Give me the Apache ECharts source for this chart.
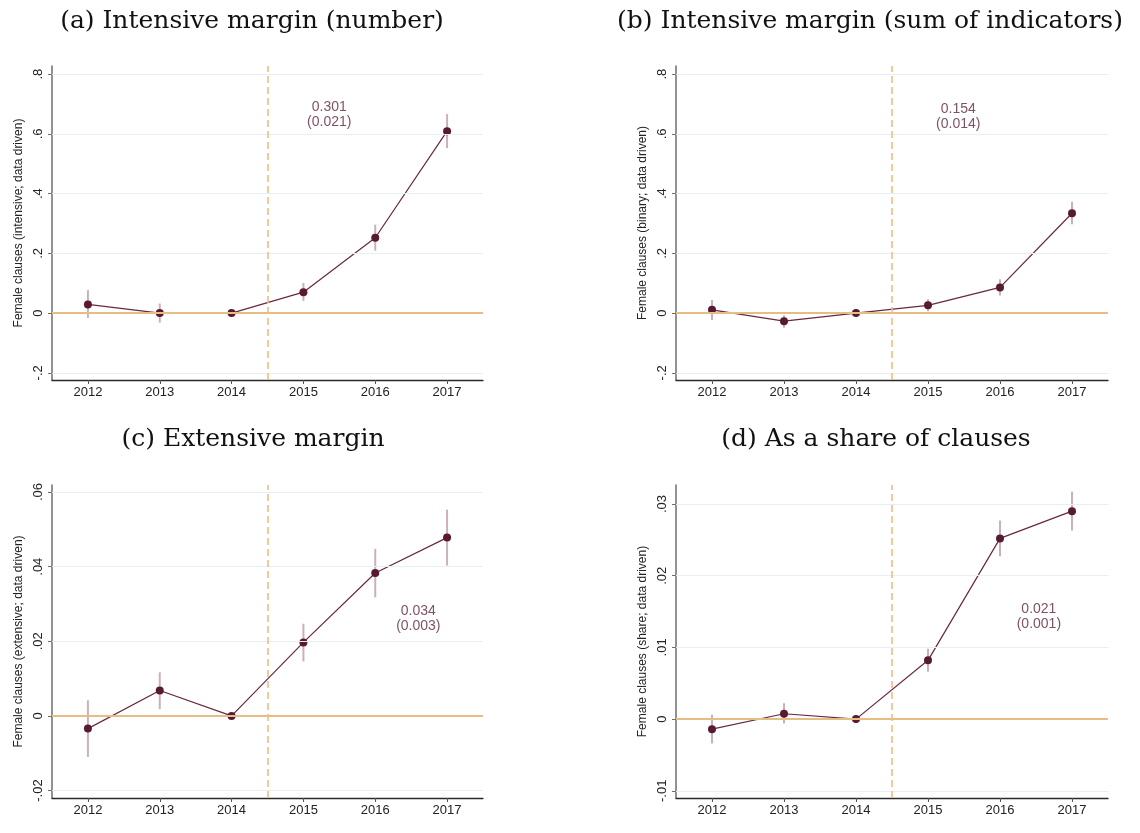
<!DOCTYPE html>
<html>
<head>
<meta charset="utf-8">
<script src="https://cdn.jsdelivr.net/npm/echarts@6/dist/echarts.min.js"></script>
<style>
html,body{margin:0;padding:0;background:#fff;}
#chart{width:1140px;height:833px;}
</style>
</head>
<body>
<div id="chart"></div>
<script>
// ---- data ----
const years = [2012, 2013, 2014, 2015, 2016, 2017];
const titles = ['(a) Intensive margin (number)', '(b) Intensive margin (sum of indicators)', '(c) Extensive margin', '(d) As a share of clauses'];
const yNames = ['Female clauses (intensive; data driven)', 'Female clauses (binary; data driven)', 'Female clauses (extensive; data driven)', 'Female clauses (share; data driven)'];

const aEst = [0.029, 0.000, 0, 0.070, 0.252, 0.609];
const aLo  = [-0.016, -0.032, 0, 0.041, 0.209, 0.552];
const aHi  = [0.077, 0.032, 0, 0.101, 0.296, 0.666];

const bEst = [0.011, -0.027, 0, 0.026, 0.086, 0.334];
const bLo  = [-0.023, -0.049, 0, 0.006, 0.059, 0.297];
const bHi  = [0.044, -0.007, 0, 0.046, 0.113, 0.373];

const cEst = [-0.0034, 0.0068, 0, 0.0197, 0.0383, 0.0478];
const cLo  = [-0.0110, 0.0018, 0, 0.0146, 0.0318, 0.0403];
const cHi  = [0.0042, 0.0117, 0, 0.0247, 0.0448, 0.0553];

const dEst = [-0.0014, 0.00075, 0, 0.0082, 0.0252, 0.0290];
const dLo  = [-0.0034, -0.0006, 0, 0.0066, 0.0227, 0.0263];
const dHi  = [0.0006, 0.0022, 0, 0.0098, 0.0277, 0.0317];

const abTicks = [-0.2, 0, 0.2, 0.4, 0.6, 0.8];
const abTickLabels = ['-.2', '0', '.2', '.4', '.6', '.8'];
const cTicks = [-0.02, 0, 0.02, 0.04, 0.06];
const cTickLabels = ['-.02', '0', '.02', '.04', '.06'];
const dTicks = [-0.01, 0, 0.01, 0.02, 0.03];
const dTickLabels = ['-.01', '0', '.01', '.02', '.03'];

const noteEst = ['0.301', '0.154', '0.034', '0.021'];
const noteSe  = ['(0.021)', '(0.014)', '(0.003)', '(0.001)'];
const noteX = [2015.36, 2015.42, 2016.6, 2016.54];
const noteY = [0.664, 0.656, 0.0262, 0.01433];

const cutoff = 2014.5;

// ---- layout / style ----
const grids = [
  {left: 52, top: 66, width: 431, height: 314},
  {left: 676, top: 66, width: 432, height: 314},
  {left: 52, top: 485, width: 431, height: 313},
  {left: 676, top: 485, width: 432, height: 313}
];
const yRanges = [[-0.224, 0.827], [-0.224, 0.827], [-0.022, 0.0619], [-0.0110, 0.03265]];
const titlePos = [[247, 4], [865, 4], [248, 422], [871, 422]];

const panels = [
  {est: aEst, lo: aLo, hi: aHi, ticks: abTicks, labels: abTickLabels},
  {est: bEst, lo: bLo, hi: bHi, ticks: abTicks, labels: abTickLabels},
  {est: cEst, lo: cLo, hi: cHi, ticks: cTicks, labels: cTickLabels},
  {est: dEst, lo: dLo, hi: dHi, ticks: dTicks, labels: dTickLabels}
];

const MAROON = '#581a32';
const LINE = '#682842';
const CI = '#cbb0ba';
const NOTE = '#5e2640';
const ZERO = '#e7bd86';
const VLINE = '#efbd82';
const GRIDC = '#e6eff1';
const YAXISC = '#6e6e6e';
const XAXISC = '#2a2a2a';
const SANS = '"Liberation Sans", Arial, sans-serif';

const option = {
  backgroundColor: '#fff',
  animation: false,
  title: titles.map((t, i) => ({
    text: t, left: titlePos[i][0], top: titlePos[i][1], textAlign: 'center',
    textStyle: {fontFamily: '"DejaVu Serif", serif', fontWeight: 'normal', fontSize: 25, color: '#111'}
  })),
  grid: grids.map(g => Object.assign({containLabel: false}, g)),
  xAxis: [], yAxis: [], series: []
};

panels.forEach((p, i) => {
  option.xAxis.push({
    type: 'value', gridIndex: i, min: 2011.5, max: 2017.5,
    axisLine: {show: true, onZero: false, lineStyle: {color: XAXISC, width: 1.3}},
    axisTick: {show: true, customValues: years, length: 4, lineStyle: {color: '#555'}},
    axisLabel: {customValues: years, margin: 6, fontFamily: SANS, fontSize: 13, color: '#222', formatter: v => String(v)},
    splitLine: {show: false}
  });
  option.yAxis.push({
    type: 'value', gridIndex: i, min: yRanges[i][0], max: yRanges[i][1],
    name: yNames[i], nameLocation: 'middle', nameGap: 27, nameRotate: 90,
    nameTextStyle: {fontFamily: SANS, fontSize: 12, color: '#222'},
    axisLine: {show: true, onZero: false, lineStyle: {color: YAXISC, width: 1.5}},
    axisTick: {show: true, customValues: p.ticks, length: 4, lineStyle: {color: YAXISC}},
    axisLabel: {
      customValues: p.ticks, rotate: 90, margin: 7, fontFamily: SANS, fontSize: 13, color: '#222',
      formatter: v => {
        for (let k = 0; k < p.ticks.length; k++) if (Math.abs(p.ticks[k] - v) < 1e-9) return p.labels[k];
        return '';
      }
    },
    splitLine: {show: false}
  });

  // grid lines
  option.series.push({
    type: 'line', xAxisIndex: i, yAxisIndex: i, data: [], z: 1, silent: true,
    markLine: {
      silent: true, symbol: 'none', animation: false, label: {show: false},
      lineStyle: {color: GRIDC, width: 1, type: 'solid'},
      data: p.ticks.map(t => ({yAxis: t}))
    }
  });
  // zero line + cutoff line
  option.series.push({
    type: 'line', xAxisIndex: i, yAxisIndex: i, data: [], z: 2, silent: true,
    markLine: {
      silent: true, symbol: 'none', animation: false, label: {show: false},
      data: [
        {yAxis: 0, lineStyle: {color: ZERO, width: 2, type: 'solid'}},
        {xAxis: cutoff, lineStyle: {color: VLINE, width: 1.6, type: [7, 4]}}
      ]
    }
  });
  // CI bars
  option.series.push({
    type: 'custom', xAxisIndex: i, yAxisIndex: i, z: 3, silent: true,
    data: years.map((y, k) => [y, p.lo[k], p.hi[k]]),
    renderItem: (params, api) => {
      const a = api.coord([api.value(0), api.value(1)]);
      const b = api.coord([api.value(0), api.value(2)]);
      return {type: 'line', shape: {x1: a[0], y1: a[1], x2: b[0], y2: b[1]}, style: {stroke: CI, lineWidth: 2}};
    }
  });
  // estimates
  option.series.push({
    type: 'line', xAxisIndex: i, yAxisIndex: i, z: 4,
    data: years.map((y, k) => [y, p.est[k]]),
    symbol: 'circle', symbolSize: 8,
    itemStyle: {color: MAROON},
    lineStyle: {color: LINE, width: 1.2}
  });
  // annotation
  option.series.push({
    type: 'scatter', xAxisIndex: i, yAxisIndex: i, z: 5, silent: true,
    data: [[noteX[i], noteY[i]]], symbolSize: 0,
    label: {
      show: true, position: 'inside', formatter: noteEst[i] + '\n' + noteSe[i],
      fontFamily: SANS, fontSize: 14, lineHeight: 15, color: NOTE, align: 'center'
    }
  });
});

const chart = echarts.init(document.getElementById('chart'), null, {renderer: 'canvas'});
chart.setOption(option);
</script>
</body>
</html>
